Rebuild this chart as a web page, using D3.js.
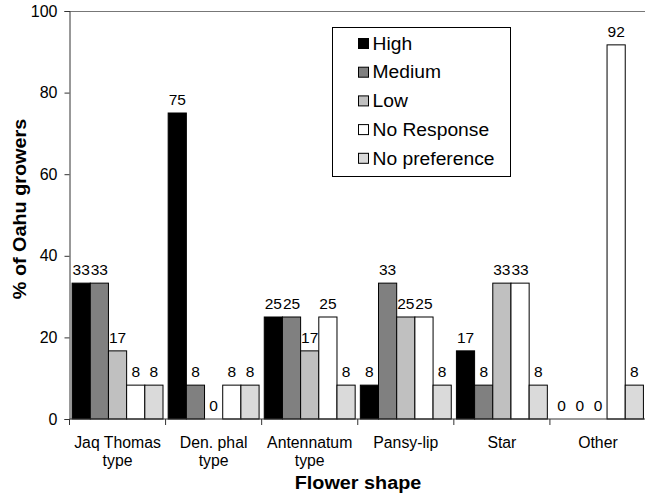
<!DOCTYPE html>
<html><head><meta charset="utf-8">
<script src="https://cdn.jsdelivr.net/npm/d3@7"></script>
<style>body{margin:0;background:#fff}svg{display:block;font-family:"Liberation Sans",Arial,sans-serif}</style>
</head><body>
<svg id="c" width="645" height="495"></svg>
<script>
const categories = [["Jaq Thomas","type"],["Den. phal","type"],["Antennatum","type"],["Pansy-lip"],["Star"],["Other"]];
const seriesNames = ["High","Medium","Low","No Response","No preference"];
const high = [33.3, 75, 25, 8.3, 16.7, 0];
const medium = [33.3, 8.3, 25, 33.3, 8.3, 0];
const low = [16.7, 0, 16.7, 25, 33.3, 0];
const noResponse = [8.3, 8.3, 25, 25, 33.3, 91.7];
const noPreference = [8.3, 8.3, 8.3, 8.3, 8.3, 8.3];
const yTicks = [0,20,40,60,80,100];
const colors = ["#000000","#808080","#c0c0c0","#ffffff","#dadada"];
const series = [high, medium, low, noResponse, noPreference];

function stretch(sx){
  return function(sel){
    sel.each(function(){
      const w = this.getComputedTextLength();
      if (w > 0) { this.setAttribute("textLength", w*sx); this.setAttribute("lengthAdjust","spacingAndGlyphs"); }
    });
  };
}

const svg = d3.select("#c");
const m = {l:69.5, r:646, t:11, b:419};
const x = d3.scaleBand().domain(d3.range(categories.length)).range([m.l, m.r]).paddingInner(0).paddingOuter(0);
const xs = d3.scaleBand().domain(d3.range(series.length)).range([0, x.bandwidth()]).paddingOuter(0.142).paddingInner(0);
const y = d3.scaleLinear().domain([0,100]).range([m.b, m.t]);

// top border
svg.append("line").attr("x1", m.l).attr("x2", 645).attr("y1", m.t+0.5).attr("y2", m.t+0.5).attr("stroke","#777");

// bars
series.forEach((s, si) => {
  const g = svg.append("g");
  g.selectAll("rect").data(s).join("rect")
    .attr("x", (d,i) => x(i) + xs(si))
    .attr("y", d => y(d))
    .attr("width", xs.bandwidth())
    .attr("height", d => y(0) - y(d))
    .attr("fill", colors[si])
    .attr("stroke", d => d > 0 ? "#000" : "none")
    .attr("stroke-width", 1);
  g.selectAll("text").data(s).join("text")
    .attr("x", (d,i) => x(i) + xs(si) + xs.bandwidth()/2)
    .attr("y", d => y(d) - 8)
    .attr("text-anchor","middle")
    .attr("font-size", 15.5)
    .text(d => d3.format(".0f")(d));
});

// y axis
const ya = svg.append("g").attr("transform", `translate(${m.l},0)`)
  .call(d3.axisLeft(y).tickValues(yTicks).tickSize(5).tickPadding(7));
ya.select(".domain").attr("stroke","#333");
ya.selectAll(".tick line").attr("stroke","#333");
ya.selectAll("text").attr("font-size",16).attr("font-family","Liberation Sans, Arial, sans-serif").attr("fill","#000");

// x axis
const xa = svg.append("g").attr("transform", `translate(0,${m.b})`);
xa.append("line").attr("x1", m.l).attr("x2", m.r).attr("stroke","#333");
const bounds = d3.range(categories.length + 1).map(i => i < categories.length ? x(i) : m.r);
xa.selectAll("line.tk").data(bounds).join("line").attr("class","tk")
  .attr("x1", d => d).attr("x2", d => d).attr("y1", 0).attr("y2", 6).attr("stroke","#333");
categories.forEach((c, i) => {
  c.forEach((line, li) => {
    xa.append("text").attr("text-anchor","middle").attr("font-size",15.8)
      .attr("x", x(i) + x.bandwidth()/2).attr("y", 28.5 + li*18).text(line);
  });
});

// axis titles
svg.append("text").attr("x", 358).attr("y", 489).attr("text-anchor","middle")
  .attr("font-size",18).attr("font-weight","bold").text("Flower shape").call(stretch(1.1));
svg.append("text").attr("transform","translate(26,209) rotate(-90)").attr("text-anchor","middle")
  .attr("font-size",18).attr("font-weight","bold").text("% of Oahu growers").call(stretch(1.1));

// legend
const lg = svg.append("g");
lg.append("rect").attr("x",332.5).attr("y",27.5).attr("width",178).attr("height",149).attr("fill","#fff").attr("stroke","#000");
seriesNames.forEach((n, i) => {
  const yy = 43.5 + i*28.7;
  lg.append("rect").attr("x",358.5).attr("y",yy-5).attr("width",10).attr("height",10).attr("fill",colors[i]).attr("stroke","#000");
  lg.append("text").attr("x",372.5).attr("y",yy+6.2).attr("font-size",17.5).text(n).call(stretch(1.1));
});
</script>
</body></html>
